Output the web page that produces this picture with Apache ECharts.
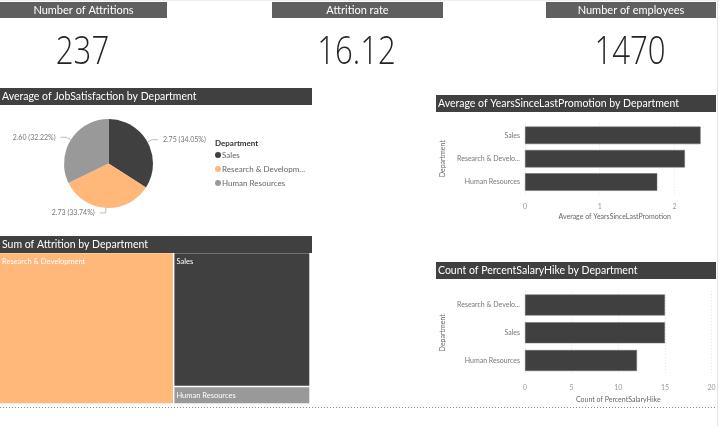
<!DOCTYPE html>
<html><head><meta charset="utf-8">
<script src="https://cdn.jsdelivr.net/npm/echarts@6/dist/echarts.min.js"></script>
<style>html,body{margin:0;padding:0;background:#fff}#c{width:720px;height:426px}</style>
</head><body><div id="c"></div>
<script>
// ---- data ----
const cardTitles = ['Number of Attritions', 'Attrition rate', 'Number of employees'];
const cardValues = ['237', '16.12', '1470'];

const pieDepts = ['Sales', 'Research & Development', 'Human Resources'];
const jobSatisfaction = [2.7511, 2.7263, 2.6032];

const promoDepts = ['Sales', 'Research & Development', 'Human Resources'];
const yearsSincePromotion = [2.35, 2.14, 1.77];

const hikeDepts = ['Research & Development', 'Sales', 'Human Resources'];
const salaryHikeCount = [15, 15, 12];

const attritionDepts = ['Research & Development', 'Sales', 'Human Resources'];
const attritionSum = [133, 92, 12];

const chartTitles = [
  'Average of JobSatisfaction by Department',
  'Average of YearsSinceLastPromotion by Department',
  'Sum of Attrition by Department',
  'Count of PercentSalaryHike by Department'
];

// ---- styles ----
const FONT = 'Lato, "Open Sans", sans-serif';
const CARD_FONT = '"Open Sans", "Noto Sans", sans-serif';
const deptColor = {
  'Sales': '#404040',
  'Research & Development': '#FFB77A',
  'Human Resources': '#999999'
};
const cardBoxes = [{x: 0, w: 167}, {x: 272, w: 171}, {x: 546, w: 170}];
const titleBoxes = [
  {x: 0, y: 88, w: 312},
  {x: 436, y: 95, w: 280},
  {x: 0, y: 236, w: 312},
  {x: 436, y: 262, w: 280}
];

function trunc(s, n) { return s.length > n ? s.slice(0, n) + '...' : s; }
const pieTotal = jobSatisfaction.reduce((a, b) => a + b, 0);

const graphic = [];
cardTitles.forEach((t, i) => {
  const b = cardBoxes[i];
  graphic.push({type: 'rect', shape: {x: b.x, y: 2, width: b.w, height: 16}, style: {fill: '#5f5f5f'}, silent: true});
  graphic.push({type: 'text', x: b.x + b.w / 2, y: 10, style: {text: t, fill: '#fff', font: '11px ' + FONT, textAlign: 'center', textVerticalAlign: 'middle'}, silent: true});
  graphic.push({type: 'text', x: b.x + b.w / 2 - 1, y: 53.5, scaleX: 0.82, style: {text: cardValues[i], fill: '#252423', font: '300 38px ' + CARD_FONT, textAlign: 'center', textVerticalAlign: 'middle'}, silent: true});
});
chartTitles.forEach((t, i) => {
  const b = titleBoxes[i];
  graphic.push({type: 'rect', shape: {x: b.x, y: b.y, width: b.w, height: 17}, style: {fill: '#404040'}, silent: true});
  graphic.push({type: 'text', x: b.x + 2, y: b.y + 8.5, style: {text: t, fill: '#fff', font: '10.5px ' + FONT, textAlign: 'left', textVerticalAlign: 'middle'}, silent: true});
});
graphic.push({type: 'text', x: 215, y: 143, style: {text: 'Department', fill: '#333', font: 'bold 8px ' + FONT, textAlign: 'left', textVerticalAlign: 'middle'}, silent: true});
graphic.push({type: 'line', shape: {x1: 0, y1: 407.5, x2: 720, y2: 407.5}, style: {stroke: '#888', lineWidth: 1, lineDash: [1, 2]}, silent: true});
graphic.push({type: 'line', shape: {x1: 0, y1: 234.5, x2: 312, y2: 234.5}, style: {stroke: '#eee', lineWidth: 1, lineDash: [1, 2]}, silent: true});
graphic.push({type: 'line', shape: {x1: 717.5, y1: 0, x2: 717.5, y2: 426}, style: {stroke: '#e3e3e3', lineWidth: 1}, silent: true});
graphic.push({type: 'line', shape: {x1: 0, y1: 0.5, x2: 720, y2: 0.5}, style: {stroke: '#eee', lineWidth: 1}, silent: true});

const axisLabelStyle = {fontSize: 7, color: '#999', fontFamily: FONT};
const catLabelStyle = {fontSize: 7, color: '#777', fontFamily: FONT, margin: 5, formatter: v => trunc(v, 17)};
const nameStyle = {fontSize: 7, color: '#666', fontFamily: FONT};

const option = {
  animation: false,
  textStyle: {fontFamily: FONT},
  graphic: graphic,
  legend: {
    data: pieDepts, orient: 'vertical', left: 215, top: 151, padding: 0,
    icon: 'circle', itemWidth: 6, itemHeight: 6, itemGap: 6,
    textStyle: {fontSize: 8, color: '#666', padding: [0, 0, 0, -4]},
    formatter: n => trunc(n, 19),
    selectedMode: false
  },
  grid: [
    {left: 525, top: 123.7, width: 179.3, height: 70},
    {left: 525, top: 291.1, width: 186.6, height: 83.3}
  ],
  xAxis: [
    {gridIndex: 0, type: 'value', min: 0, max: 2.4, interval: 1,
      axisLine: {show: false}, axisTick: {show: false},
      axisLabel: Object.assign({margin: 10, formatter: v => (Number.isInteger(v) ? String(v) : '')}, axisLabelStyle),
      splitLine: {show: true, showMaxLine: false, lineStyle: {color: '#e6e6e6', type: [1, 2]}},
      name: 'Average of YearsSinceLastPromotion', nameLocation: 'middle', nameGap: 20, nameTextStyle: nameStyle},
    {gridIndex: 1, type: 'value', min: 0, max: 20, interval: 5,
      axisLine: {show: false}, axisTick: {show: false},
      axisLabel: Object.assign({margin: 10}, axisLabelStyle),
      splitLine: {show: true, lineStyle: {color: '#e6e6e6', type: [1, 2]}},
      name: 'Count of PercentSalaryHike', nameLocation: 'middle', nameGap: 22, nameTextStyle: nameStyle}
  ],
  yAxis: [
    {gridIndex: 0, type: 'category', data: promoDepts, inverse: true,
      axisLine: {show: false}, axisTick: {show: false}, axisLabel: catLabelStyle,
      name: 'Department', nameLocation: 'middle', nameGap: 79, nameRotate: 90, nameTextStyle: nameStyle},
    {gridIndex: 1, type: 'category', data: hikeDepts, inverse: true,
      axisLine: {show: false}, axisTick: {show: false}, axisLabel: catLabelStyle,
      name: 'Department', nameLocation: 'middle', nameGap: 79, nameRotate: 90, nameTextStyle: nameStyle}
  ],
  series: [
    {
      type: 'pie', name: 'JobSatisfaction', center: [108.5, 163.5], radius: 44.5,
      startAngle: 90, clockwise: true,
      data: pieDepts.map((d, i) => ({name: d, value: jobSatisfaction[i], itemStyle: {color: deptColor[d]}})),
      label: {show: true, fontSize: 7, color: '#777', fontFamily: FONT,
        formatter: p => p.value.toFixed(2) + ' (' + (p.value / pieTotal * 100).toFixed(2) + '%)'},
      labelLine: {show: true, length: 5, length2: 6, lineStyle: {color: '#aaa', width: 0.8}},
      itemStyle: {borderWidth: 0}
    },
    {
      type: 'bar', name: 'YearsSinceLastPromotion', xAxisIndex: 0, yAxisIndex: 0,
      data: yearsSincePromotion, barWidth: 17.5,
      itemStyle: {color: '#404040', borderColor: '#6a6a6a', borderWidth: 0.5}
    },
    {
      type: 'bar', name: 'PercentSalaryHike', xAxisIndex: 1, yAxisIndex: 1,
      data: salaryHikeCount, barWidth: 21,
      itemStyle: {color: '#404040', borderColor: '#6a6a6a', borderWidth: 0.5}
    },
    {
      type: 'treemap', name: 'Attrition', left: 0, top: 253.3, width: 309.3, height: 150,
      roam: false, nodeClick: false, breadcrumb: {show: false},
      squareRatio: 0.5 * (1 + Math.sqrt(5)),
      data: attritionDepts.map((d, i) => ({name: d, value: attritionSum[i], itemStyle: {color: deptColor[d]}})),
      levels: [{itemStyle: {gapWidth: 1.5, borderWidth: 0, borderColor: '#fff'}}],
      label: {show: true, position: 'insideTopLeft', distance: 0, padding: [4, 2, 0, 2],
        fontSize: 7.5, color: '#fff', fontFamily: FONT, formatter: '{b}'},
      itemStyle: {borderWidth: 0}
    }
  ]
};

const chart = echarts.init(document.getElementById('c'), null, {renderer: 'canvas'});
chart.setOption(option);
</script>
</body></html>
